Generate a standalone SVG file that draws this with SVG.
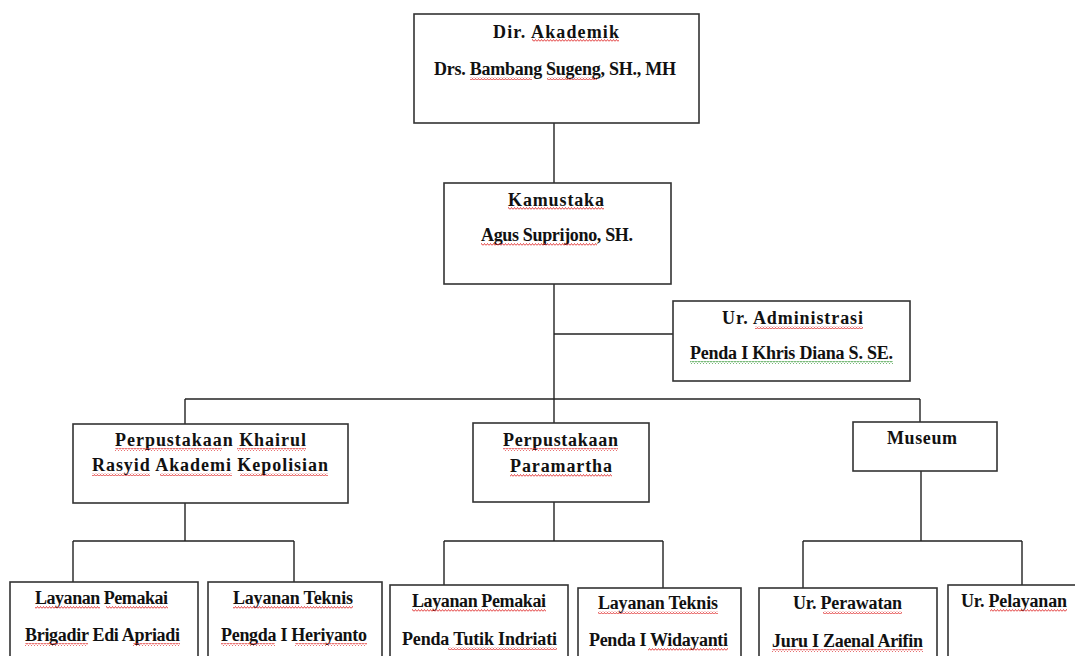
<svg xmlns="http://www.w3.org/2000/svg" width="1075" height="656" viewBox="0 0 1075 656">
<style>
.box{fill:#fff;stroke:#333;stroke-width:1.6}
.ln{fill:none;stroke:#222;stroke-width:1.4}
.t{font-family:"Liberation Serif","Times New Roman",serif;font-weight:bold;font-size:18px;fill:#111}
.sq{fill:url(#red)}
.sg{fill:url(#green)}
</style>
<defs>
<pattern id="red" width="3" height="3" patternUnits="userSpaceOnUse">
<path d="M0 2.5 L1.5 0.5 L3 2.5" fill="none" stroke="#e03030" stroke-width="0.9"/>
</pattern>
<pattern id="green" width="3" height="3" patternUnits="userSpaceOnUse">
<path d="M0 2.5 L1.5 0.5 L3 2.5" fill="none" stroke="#3a9a3a" stroke-width="0.9"/>
</pattern>
</defs>
<rect width="1075" height="656" fill="#fff"/>
<g id="connectors">
<path class="ln" d="M554 123 V183"/>
<path class="ln" d="M554 284 V423"/>
<path class="ln" d="M554 334 H673"/>
<path class="ln" d="M185 399 H920"/>
<path class="ln" d="M185 399 V424"/>
<path class="ln" d="M920 399 V422"/>
<path class="ln" d="M185 503 V541 M73 541 H294 M73 541 V582 M294 541 V582"/>
<path class="ln" d="M554 502 V541 M444 541 H663 M444 541 V585 M663 541 V588"/>
<path class="ln" d="M921 471 V541 M803 541 H1022 M803 541 V588 M1022 541 V585"/>
</g>
<g id="dir">
<rect class="box" x="414" y="14" width="285" height="109"/>
<text class="t" x="493" y="38" textLength="126" lengthAdjust="spacing">Dir. Akademik</text>
<text class="t" x="434" y="75" textLength="242" lengthAdjust="spacing">Drs. Bambang Sugeng, SH., MH</text>
<rect class="sq" x="532" y="39" width="87" height="3"/>
<rect class="sq" x="470" y="77" width="62" height="3"/>
<rect class="sq" x="547" y="77" width="50" height="3"/>
</g>
<g id="kamustaka">
<rect class="box" x="444" y="183" width="227" height="101"/>
<text class="t" x="508" y="206" textLength="96" lengthAdjust="spacing">Kamustaka</text>
<text class="t" x="481" y="241" textLength="152" lengthAdjust="spacing">Agus Suprijono, SH.</text>
<rect class="sq" x="508" y="207" width="96" height="3"/>
<rect class="sq" x="481" y="243" width="116" height="3"/>
</g>
<g id="administrasi">
<rect class="box" x="673" y="301" width="237" height="80"/>
<text class="t" x="722" y="324" textLength="141" lengthAdjust="spacing">Ur. Administrasi</text>
<text class="t" x="690" y="359" textLength="203" lengthAdjust="spacing">Penda I Khris Diana S. SE.</text>
<rect class="sq" x="755" y="326" width="108" height="3"/>
<rect class="sg" x="690" y="361" width="203" height="3"/>
</g>
<g id="khairul">
<rect class="box" x="73" y="424" width="275" height="79"/>
<text class="t" x="115" y="446" textLength="191" lengthAdjust="spacing">Perpustakaan  Khairul</text>
<text class="t" x="92" y="471" textLength="236" lengthAdjust="spacing">Rasyid Akademi Kepolisian</text>
<rect class="sq" x="115" y="448" width="107" height="3"/>
<rect class="sq" x="237" y="448" width="69" height="3"/>
<rect class="sq" x="92" y="473" width="58" height="3"/>
<rect class="sq" x="160" y="473" width="72" height="3"/>
<rect class="sq" x="240" y="473" width="88" height="3"/>
</g>
<g id="paramartha">
<rect class="box" x="473" y="423" width="176" height="79"/>
<text class="t" x="503" y="446" textLength="115" lengthAdjust="spacing">Perpustakaan</text>
<text class="t" x="510" y="472" textLength="102" lengthAdjust="spacing">Paramartha</text>
<rect class="sq" x="503" y="448" width="115" height="3"/>
<rect class="sq" x="510" y="474" width="102" height="3"/>
</g>
<g id="museum">
<rect class="box" x="853" y="422" width="144" height="49"/>
<text class="t" x="887" y="444" textLength="70" lengthAdjust="spacing">Museum</text>
</g>
<g id="layanan-pemakai-1">
<rect class="box" x="10" y="582" width="188" height="80"/>
<text class="t" x="35" y="604" textLength="133" lengthAdjust="spacing">Layanan Pemakai</text>
<text class="t" x="25" y="641" textLength="155" lengthAdjust="spacing">Brigadir Edi Apriadi</text>
<rect class="sq" x="35" y="606" width="65" height="3"/>
<rect class="sq" x="106" y="606" width="62" height="3"/>
<rect class="sq" x="25" y="643" width="63" height="3"/>
<rect class="sq" x="133" y="643" width="47" height="3"/>
</g>
<g id="layanan-teknis-1">
<rect class="box" x="208" y="582" width="174" height="80"/>
<text class="t" x="233" y="604" textLength="120" lengthAdjust="spacing">Layanan Teknis</text>
<text class="t" x="221" y="641" textLength="146" lengthAdjust="spacing">Pengda I Heriyanto</text>
<rect class="sq" x="233" y="606" width="120" height="3"/>
<rect class="sq" x="221" y="643" width="54" height="3"/>
<rect class="sq" x="295" y="643" width="72" height="3"/>
</g>
<g id="layanan-pemakai-2">
<rect class="box" x="390" y="585" width="178" height="80"/>
<text class="t" x="412" y="607" textLength="134" lengthAdjust="spacing">Layanan Pemakai</text>
<text class="t" x="402" y="645" textLength="155" lengthAdjust="spacing">Penda Tutik Indriati</text>
<rect class="sq" x="412" y="609" width="134" height="3"/>
<rect class="sq" x="448" y="647" width="109" height="3"/>
</g>
<g id="layanan-teknis-2">
<rect class="box" x="578" y="588" width="163" height="80"/>
<text class="t" x="598" y="609" textLength="120" lengthAdjust="spacing">Layanan Teknis</text>
<text class="t" x="589" y="646" textLength="139" lengthAdjust="spacing">Penda I Widayanti</text>
<rect class="sq" x="598" y="611" width="120" height="3"/>
<rect class="sq" x="648" y="648" width="80" height="3"/>
</g>
<g id="perawatan">
<rect class="box" x="759" y="588" width="178" height="80"/>
<text class="t" x="793" y="609" textLength="109" lengthAdjust="spacing">Ur. Perawatan</text>
<text class="t" x="772" y="647" textLength="151" lengthAdjust="spacing">Juru I Zaenal Arifin</text>
<rect class="sq" x="823" y="611" width="79" height="3"/>
<rect class="sq" x="772" y="649" width="151" height="3"/>
</g>
<g id="pelayanan">
<rect class="box" x="948" y="585" width="140" height="80"/>
<text class="t" x="961" y="607" textLength="106" lengthAdjust="spacing">Ur. Pelayanan</text>
<rect class="sq" x="990" y="609" width="77" height="3"/>
</g>
</svg>
